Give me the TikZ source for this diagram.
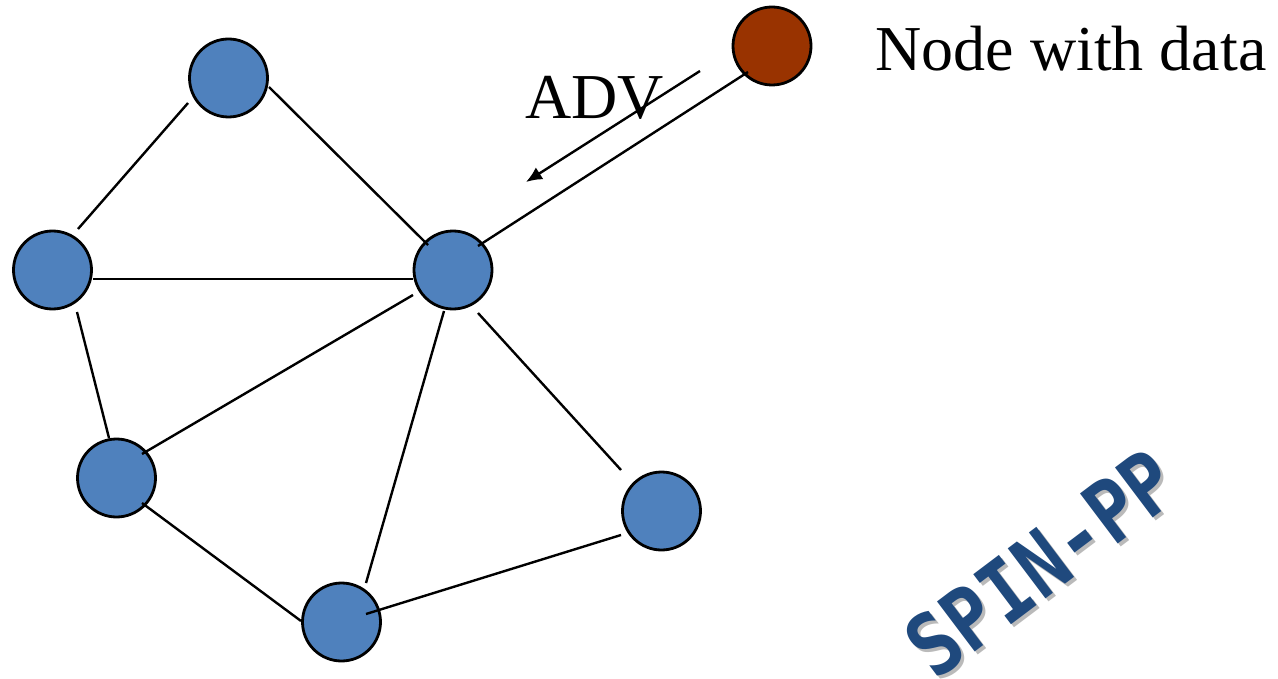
\documentclass[tikz,border=0pt]{standalone}
\usepackage{fontspec}
\setmainfont{Liberation Serif}
\newfontfamily\spinfont{DejaVu Sans Mono}
\usetikzlibrary{calc,arrows.meta}
\definecolor{nodeblue}{HTML}{4F81BD}
\definecolor{datared}{HTML}{993300}
\definecolor{titleblue}{HTML}{1F497D}
\begin{document}
\begin{tikzpicture}[x=0.5pt,y=-0.5pt,
  sensor/.style={circle, draw=black, line width=1.4pt, fill=nodeblue,
                 minimum size=39pt, inner sep=0pt},
  source/.style={sensor, fill=datared},
  link/.style={line width=1.2pt},
  lbl/.style={font=\fontsize{32}{38}\selectfont, inner sep=0pt, anchor=base west},
  spin/.style={font=\spinfont\bfseries\fontsize{43}{50}\selectfont, inner sep=0pt,
               rotate=37, xscale=0.86}]
\useasboundingbox (0,0) rectangle (1278,679);

% sensor field
\node[sensor] (A) at (228.5,78) {};
\node[sensor] (B) at (52.5,270) {};
\node[sensor] (C) at (453,270) {};
\node[sensor] (D) at (116.5,478) {};
\node[sensor] (E) at (341.5,622) {};
\node[sensor] (F) at (661.5,511) {};
\node[source] (R) at (772,46) {};

% links between neighbours
\draw[link] ($(A)+(-40.5,25)$) -- ($(B)+(25.5,-41)$);
\draw[link] ($(A)+(40.5,9)$)   -- ($(C)+(-25,-25)$);
\draw[link] ($(B)+(40.5,9)$)   -- ($(C)+(-40,9)$);
\draw[link] ($(B)+(24.5,42)$)  -- ($(D)+(-7.5,-40)$);
\draw[link] ($(D)+(25.5,-24)$) -- ($(C)+(-40,25)$);
\draw[link] ($(C)+(-9,41)$)    -- ($(E)+(24.5,-39)$);
\draw[link] ($(C)+(25,43)$)    -- ($(F)+(-40.5,-41)$);
\draw[link] ($(D)+(25.5,25)$)  -- ($(E)+(-40.5,-1)$);
\draw[link] ($(E)+(24.5,-8)$)  -- ($(F)+(-40.5,24)$);
\draw[link] ($(R)+(-24,26)$)   -- ($(C)+(25,-24)$);

% advertisement message
\coordinate (advfrom) at ($(R)+(-72,25)$);
\coordinate (advto) at ($(C)+(73,-88)$);
\draw[link, -{Latex[length=8pt,width=7pt]}] (advfrom) -- (advto);
\node[lbl] (advlbl) at (525,119) {ADV};

% legend
\node[lbl] (datalbl) at (875,71) {Node with data};

% protocol name with drop shadow
\node[spin, text=black!45, opacity=0.6] (spinshadow) at (1044,566) {SPIN-PP};
\node[spin, text=titleblue] (spinlbl) at (1041,563) {SPIN-PP};
\end{tikzpicture}
\end{document}
